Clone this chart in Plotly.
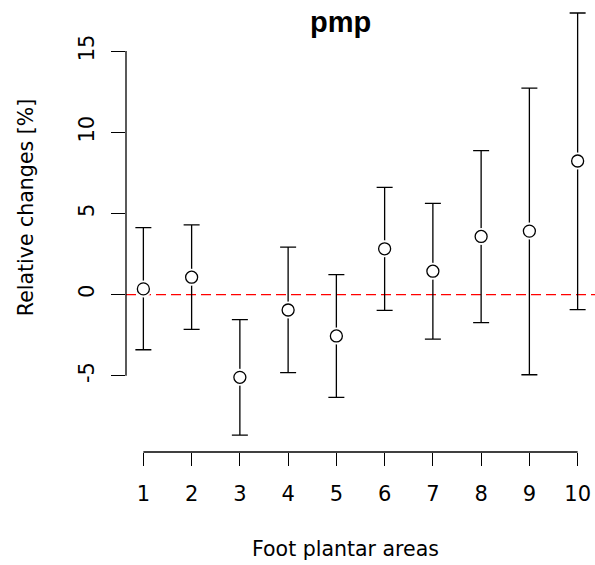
import plotly.graph_objects as go

# Data
areas = [1, 2, 3, 4, 5, 6, 7, 8, 9, 10]
mean_change = [0.35, 1.07, -5.10, -0.95, -2.55, 2.82, 1.44, 3.58, 3.91, 8.23]
upper_ci = [4.12, 4.30, -1.54, 2.92, 1.23, 6.60, 5.62, 8.87, 12.72, 17.35]
lower_ci = [-3.40, -2.14, -8.66, -4.81, -6.34, -0.97, -2.74, -1.73, -4.94, -0.93]
y_ticks = [-5, 0, 5, 10, 15]
x_ticks = areas

err_plus = [u - m for u, m in zip(upper_ci, mean_change)]
err_minus = [m - l for m, l in zip(mean_change, lower_ci)]

W, H = 595, 565
L, R, T, B = 126, 0, 0, 113.3
pw, ph = W - L - R, H - T - B


def px(xp):
    return (xp - L) / pw


def py(yp):
    return (H - B - yp) / ph


FONT = "DejaVu Sans"

fig = go.Figure()
# error bars with a white halo marker (creates the gap around the circles)
fig.add_trace(go.Scatter(
    x=areas, y=mean_change, mode="markers",
    marker=dict(size=17, color="white", line=dict(width=0)),
    error_y=dict(type="data", symmetric=False, array=err_plus, arrayminus=err_minus,
                 color="black", thickness=1.3, width=8),
    hoverinfo="skip", showlegend=False,
))
# open circles
fig.add_trace(go.Scatter(
    x=areas, y=mean_change, mode="markers",
    marker=dict(size=12, color="white", line=dict(color="black", width=1.3)),
    showlegend=False,
))

# reference line at zero (red dashed)
fig.add_shape(type="line", xref="paper", yref="y", x0=0, x1=1, y0=0, y1=0,
              line=dict(color="red", width=1.3, dash="10px,5px"), layer="below")
# R-style axis lines spanning only the tick range
fig.add_shape(type="line", xref="x", yref="paper", x0=min(x_ticks), x1=max(x_ticks), y0=0, y1=0,
              line=dict(color="black", width=1.3))
fig.add_shape(type="line", xref="paper", yref="y", x0=0, x1=0, y0=min(y_ticks), y1=max(y_ticks),
              line=dict(color="black", width=1.3))

fig.update_xaxes(range=[0.64, 10.36], tickmode="array", tickvals=x_ticks,
                 ticktext=[str(v) for v in x_ticks],
                 ticks="outside", ticklen=13, tickwidth=1.3, tickcolor="black",
                 ticklabelstandoff=10,
                 showgrid=False, zeroline=False, showline=False,
                 tickfont=dict(family=FONT, size=21, color="black"))
fig.update_yaxes(range=[-9.7, 18.15], tickmode="array", tickvals=y_ticks,
                 ticktext=[str(v) for v in y_ticks],
                 ticks="outside", ticklen=14, tickwidth=1.3, tickcolor="black",
                 tickangle=-90, ticklabelstandoff=9,
                 showgrid=False, zeroline=False, showline=False,
                 tickfont=dict(family=FONT, size=21, color="black"))

fig.add_annotation(text="<b>pmp</b>", xref="paper", yref="paper", x=px(340), y=py(22),
                   xanchor="center", yanchor="middle", showarrow=False,
                   font=dict(family="Liberation Sans", size=29, color="black"))
fig.add_annotation(text="Foot plantar areas", xref="paper", yref="paper", x=px(345), y=py(549),
                   xanchor="center", yanchor="middle", showarrow=False,
                   font=dict(family=FONT, size=20.5, color="black"))
fig.add_annotation(text="Relative changes [%]", xref="paper", yref="paper", x=px(26), y=py(208),
                   xanchor="center", yanchor="middle", showarrow=False, textangle=-90,
                   font=dict(family=FONT, size=20.5, color="black"))

fig.update_layout(width=W, height=H, margin=dict(l=L, r=R, t=T, b=B, autoexpand=False),
                  plot_bgcolor="white", paper_bgcolor="white", showlegend=False)

fig.write_html("out.html", config={"displayModeBar": False},
               post_script="document.body.style.margin='0';document.body.style.overflow='hidden';")
